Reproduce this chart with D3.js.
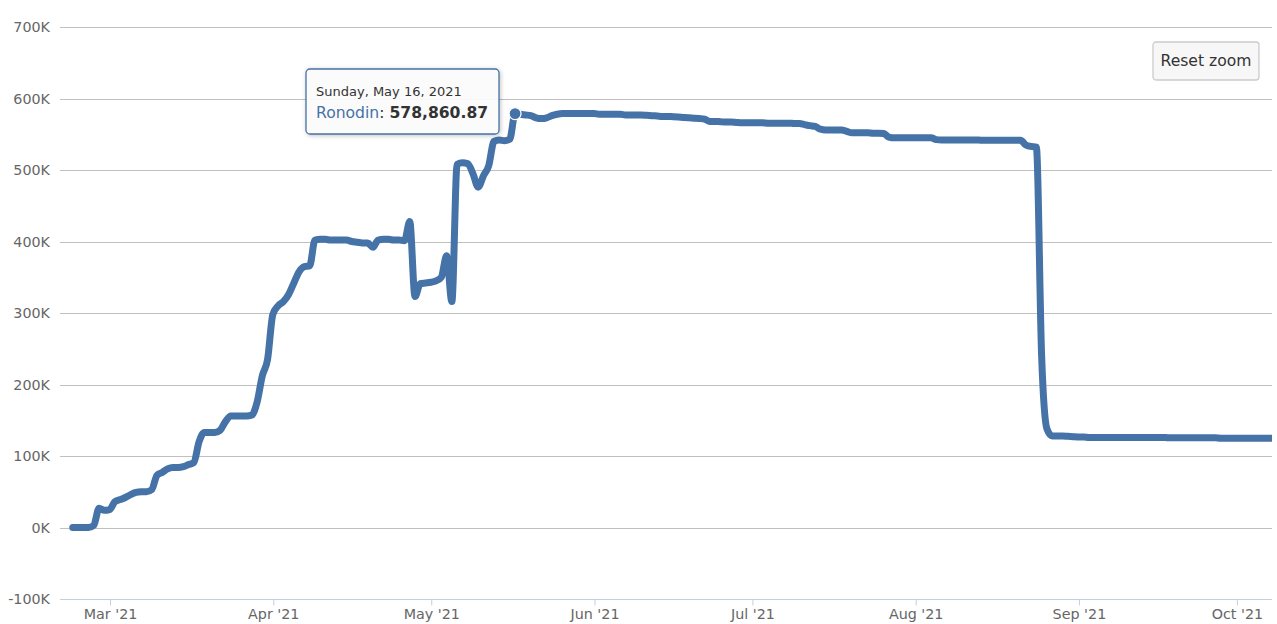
<!DOCTYPE html>
<html>
<head>
<meta charset="utf-8">
<script src="https://cdn.jsdelivr.net/npm/d3@7"></script>
<style>
  html, body { margin: 0; padding: 0; background: #fff; }
  svg { display: block; font-family: "DejaVu Sans", Verdana, sans-serif; }
</style>
</head>
<body>
<svg id="chart" width="1277" height="624"></svg>
<script>
// one reading per day, starting 2021-02-21
const START_DAY = "2021-02-21";
const POINT_HOUR = 22;
const SERIES_NAME = "Ronodin";

const balances = [
    0, 0, 0, 0, 3000, 27000, 24000, 25000,
    36000, 39000, 42000, 46000, 49000, 50000, 50000, 53000, 73000, 77000,
    82000, 84000, 84000, 85000, 88000, 91000, 120000, 133000, 133000, 133000,
    136000, 148000, 156000, 156000, 156000, 156000, 157000, 175000, 212000, 235000,
    298000, 310000, 316000, 326000, 342000, 358000, 365000, 366000, 402000, 403000,
    403000, 402000, 402000, 402000, 402000, 400000, 399000, 398000, 398000, 392000,
    402000, 403000, 403000, 402000, 402000, 401000, 428000, 323000, 341000, 342000,
    343000, 345000, 350000, 380000, 316000, 508000, 510000, 509000, 495000, 476000,
    492000, 506000, 540000, 542000, 541000, 543000, 578860.87, 578000, 577000, 576000,
    573000, 572000, 573000, 576000, 578000, 579000, 579000, 579000, 579000, 579000,
    579000, 579000, 578000, 578000, 578000, 578000, 578000, 577000, 577000, 577000,
    577000, 576500, 576000, 575500, 575000, 575000, 574500, 574000, 573500, 573000,
    572500, 572000, 571000, 568000, 568000, 567500, 567000, 567000, 566500, 566000,
    566000, 566000, 566000, 566000, 565500, 565500, 565500, 565500, 565500, 565000,
    565000, 563500, 562000, 561000, 557000, 556000, 556000, 556000, 556000, 554000,
    552000, 552000, 552000, 552000, 551500, 551500, 551000, 546000, 545000, 545000,
    545000, 545000, 545000, 545000, 545000, 545000, 542500, 542000, 542000, 542000,
    542000, 542000, 542000, 542000, 542000, 541500, 541500, 541500, 541500, 541500,
    541500, 541500, 541500, 535000, 533000, 532000, 240000, 138000, 128000, 128000,
    128000, 127500, 127000, 126500, 126500, 126000, 126000, 126000, 126000, 126000,
    126000, 126000, 126000, 126000, 126000, 126000, 126000, 126000, 126000, 126000,
    125500, 125500, 125500, 125500, 125500, 125500, 125500, 125500, 125500, 125500,
    125000, 125000, 125000, 125000, 125000, 125000, 125000, 125000, 125000, 125000,
    125000
];

const yTicks = [-100000, 0, 100000, 200000, 300000, 400000, 500000, 600000, 700000];
const monthTicks = ["2021-03-01", "2021-04-01", "2021-05-01", "2021-06-01",
    "2021-07-01", "2021-08-01", "2021-09-01", "2021-10-01"];
const viewRange = ["2021-02-19T12:00:00Z", "2021-10-07T16:00:00Z"];
const hoverDay = "2021-05-16";

const COLOR = "#4572A7";
const WIDTH = 1277, HEIGHT = 624;
const margin = {top: 27, right: 5, bottom: 25, left: 60};

const parseDay = d3.utcParse("%Y-%m-%d");
const start = parseDay(START_DAY);

const data = balances.map((v, i) => {
    const day = d3.utcDay.offset(start, i);
    return {day: day, date: d3.utcHour.offset(day, POINT_HOUR), value: v};
});

const svg = d3.select("#chart");

const x = d3.scaleUtc()
    .domain(viewRange.map(d => new Date(d)))
    .range([margin.left, WIDTH - margin.right]);

const y = d3.scaleLinear()
    .domain([-100000, 700000])
    .range([HEIGHT - margin.bottom, margin.top]);

// grid
svg.append("g")
    .attr("class", "grid")
    .selectAll("line")
    .data(yTicks)
    .join("line")
    .attr("x1", margin.left)
    .attr("x2", WIDTH - margin.right)
    .attr("y1", d => Math.round(y(d)) + 0.5)
    .attr("y2", d => Math.round(y(d)) + 0.5)
    .attr("stroke", "#C0C0C0")
    .attr("stroke-width", 1);

// y labels
const yAxis = d3.axisLeft(y)
    .tickValues(yTicks)
    .tickSize(0)
    .tickPadding(10)
    .tickFormat(d => (d / 1000) + "K");

svg.append("g")
    .attr("transform", "translate(" + margin.left + ",0)")
    .call(yAxis)
    .call(g => g.select(".domain").remove())
    .call(g => g.selectAll("text")
        .attr("fill", "#666")
        .style("font-size", "14.3px")
        .style("font-family", "DejaVu Sans"));

// x axis
const xAxis = d3.axisBottom(x)
    .tickValues(monthTicks.map(parseDay))
    .tickSize(6)
    .tickPadding(3)
    .tickFormat(d3.utcFormat("%b '%y"));

svg.append("g")
    .attr("transform", "translate(0," + (Math.round(y(-100000)) + 0.5) + ")")
    .call(xAxis)
    .call(g => g.select(".domain")
        .attr("stroke", "#C0D0E0")
        .attr("d", "M" + margin.left + ",0H" + (WIDTH - margin.right)))
    .call(g => g.selectAll(".tick line").attr("stroke", "#C0D0E0"))
    .call(g => g.selectAll("text")
        .attr("fill", "#666")
        .style("font-size", "14.3px")
        .style("font-family", "DejaVu Sans"));

// series
svg.append("clipPath")
    .attr("id", "plot-clip")
    .append("rect")
    .attr("x", margin.left)
    .attr("y", margin.top - 10)
    .attr("width", WIDTH - margin.left - margin.right)
    .attr("height", HEIGHT - margin.top - margin.bottom + 20);

const line = d3.line()
    .x(d => x(d.date))
    .y(d => y(d.value))
    .curve(d3.curveMonotoneX);

svg.append("path")
    .datum(data)
    .attr("clip-path", "url(#plot-clip)")
    .attr("fill", "none")
    .attr("stroke", COLOR)
    .attr("stroke-width", 7)
    .attr("stroke-linejoin", "round")
    .attr("stroke-linecap", "round")
    .attr("d", line);

// hovered point + tooltip
const hovered = data.find(d => d3.utcFormat("%Y-%m-%d")(d.day) === hoverDay);
const px = x(hovered.date), py = y(hovered.value);

svg.append("circle")
    .attr("cx", px)
    .attr("cy", py)
    .attr("r", 6)
    .attr("fill", COLOR)
    .attr("stroke", "#fff")
    .attr("stroke-width", 1.3);

const tip = svg.append("g");

const tipBox = tip.append("rect")
    .attr("rx", 4)
    .attr("fill", "rgba(255,255,255,0.92)")
    .attr("stroke", COLOR)
    .attr("stroke-width", 1.3)
    .style("filter", "drop-shadow(1px 1px 2px rgba(0,0,0,0.25))");

const header = tip.append("text")
    .attr("x", 10)
    .attr("y", 27)
    .attr("fill", "#333")
    .style("font-size", "13px")
    .text(d3.utcFormat("%A, %B %-d, %Y")(hovered.day));

const body = tip.append("text")
    .attr("x", 10)
    .attr("y", 49)
    .style("font-size", "15.6px");
body.append("tspan").attr("fill", COLOR).text(SERIES_NAME);
body.append("tspan").attr("fill", "#333").text(": ");
body.append("tspan")
    .attr("fill", "#333")
    .attr("font-weight", "bold")
    .text(d3.format(",.2f")(hovered.value));

const tipW = Math.ceil(Math.max(header.node().getComputedTextLength(),
    body.node().getComputedTextLength())) + 20;
const tipH = 65;
tipBox.attr("width", tipW).attr("height", tipH);
tip.attr("transform", "translate(" + Math.round(px - 16 - tipW) + "," + Math.round(py - 45) + ")");

// reset zoom button
const btn = svg.append("g")
    .attr("transform", "translate(1153,42)");
btn.append("rect")
    .attr("width", 106)
    .attr("height", 38)
    .attr("rx", 3)
    .attr("fill", "#f7f7f7")
    .attr("stroke", "#cccccc")
    .attr("stroke-width", 1.3);
btn.append("text")
    .attr("x", 53)
    .attr("y", 24)
    .attr("text-anchor", "middle")
    .attr("fill", "#333")
    .style("font-size", "15.6px")
    .text("Reset zoom");
</script>
</body>
</html>
